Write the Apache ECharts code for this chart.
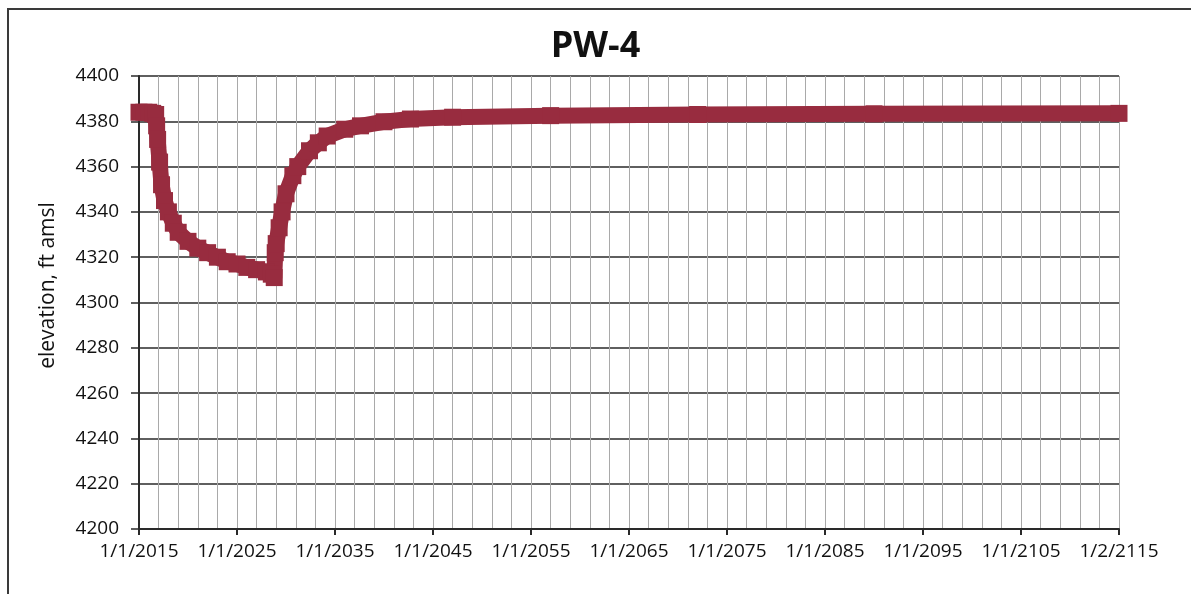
<!DOCTYPE html>
<html>
<head>
<meta charset="utf-8">
<script src="https://cdn.jsdelivr.net/npm/echarts@6/dist/echarts.min.js"></script>
<style>
  html, body { margin: 0; padding: 0; background: #fff; }
  #frame { position: absolute; left: 7px; top: 8px; width: 1184px; height: 586px; border-left: 2px solid #3a3a3a; border-top: 2px solid #3a3a3a; box-sizing: border-box; }
  #chart { position: absolute; left: 0; top: 0; width: 1191px; height: 594px; }
</style>
</head>
<body>
<div id="frame"></div>
<div id="chart"></div>
<script>
// decimal years and water elevation (ft amsl)
var years = [
  2015.0, 2015.5, 2016.0, 2016.4, 2016.7, 2016.8, 2016.9, 2017.1, 2017.3, 2017.6,
  2018.0, 2018.5, 2019.0, 2020.0, 2021.0, 2022.0, 2023.0, 2024.0, 2025.0, 2026.0,
  2027.0, 2028.0, 2028.5, 2028.8, 2028.9, 2029.0, 2029.3, 2029.6, 2030.0, 2030.7,
  2031.2, 2032.4, 2033.3, 2034.2, 2036.0, 2037.6, 2040.0, 2042.7, 2047.0, 2057.0,
  2072.0, 2090.0, 2115.0
];
var elevation = [
  4384, 4384, 4384, 4383.5, 4383, 4378, 4372, 4362, 4352, 4345,
  4340, 4335, 4331, 4327, 4324, 4322, 4320, 4318, 4317, 4315.5,
  4314.5, 4313.5, 4312.5, 4311, 4322, 4326, 4333, 4340, 4348, 4356,
  4360, 4367, 4370.5, 4373.5, 4376.5, 4378, 4379.8, 4381, 4381.8, 4382.5,
  4383, 4383.3, 4383.5
];

var points = years.map(function (y, i) { return [y, elevation[i]]; });

var chart = echarts.init(document.getElementById('chart'));
var font = "'Open Sans', sans-serif";

var option = {
  animation: false,
  title: {
    text: 'PW-4',
    left: 'center',
    top: 24,
    textStyle: { fontFamily: font, fontSize: 36, fontWeight: 'bold', color: '#111' }
  },
  grid: { left: 139, right: 72, top: 76, bottom: 65 },
  xAxis: {
    type: 'value',
    min: 2015,
    max: 2115,
    interval: 10,
    axisLine: { show: true, lineStyle: { color: '#2a2a2a', width: 2 } },
    axisTick: { show: true, length: 6, lineStyle: { color: '#2a2a2a', width: 2 } },
    axisLabel: {
      margin: 13,
      fontFamily: font,
      fontSize: 19,
      color: '#111',
      formatter: function (v) {
        return v === 2115 ? '1/2/2115' : '1/1/' + v;
      }
    },
    splitLine: { show: true, lineStyle: { color: '#a9a9a9', width: 1 } },
    minorTick: { show: false, splitNumber: 5 },
    minorSplitLine: { show: true, lineStyle: { color: '#a9a9a9', width: 1 } }
  },
  yAxis: {
    type: 'value',
    min: 4200,
    max: 4400,
    interval: 20,
    name: 'elevation, ft amsl',
    nameLocation: 'middle',
    nameGap: 80,
    nameTextStyle: { fontFamily: font, fontSize: 21, color: '#111', padding: [0, 0, 0, 34] },
    axisLine: { show: true, lineStyle: { color: '#2a2a2a', width: 2 } },
    axisTick: { show: true, length: 8, lineStyle: { color: '#2a2a2a', width: 1.5 } },
    axisLabel: {
      margin: 20,
      fontFamily: font,
      fontSize: 19,
      color: '#111',
      formatter: function (v) { return String(v); }
    },
    splitLine: { show: true, lineStyle: { color: '#2a2a2a', width: 1.6 } }
  },
  series: [
    {
      type: 'line',
      data: points,
      symbol: 'square',
      symbolSize: 17,
      itemStyle: { color: '#982c3f' },
      lineStyle: { color: '#982c3f', width: 16, join: 'round' }
    }
  ]
};

chart.setOption(option);
</script>
</body>
</html>
